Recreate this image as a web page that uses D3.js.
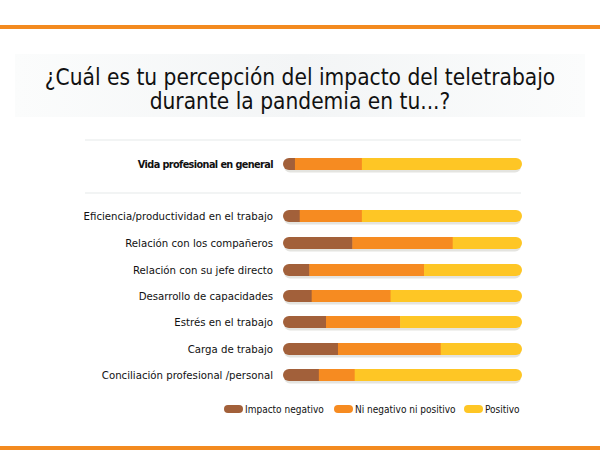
<!DOCTYPE html>
<html>
<head>
<meta charset="utf-8">
<script src="https://cdn.jsdelivr.net/npm/d3@7"></script>
<style>
  body { margin: 0; background: #fff; }
  svg { display: block; }
</style>
</head>
<body>
<svg id="chart"></svg>
<script>
const categories = [
  "Vida profesional en general",
  "Eficiencia/productividad en el trabajo",
  "Relación con los compañeros",
  "Relación con su jefe directo",
  "Desarrollo de  capacidades",
  "Estrés en el trabajo",
  "Carga de trabajo",
  "Conciliación profesional /personal"
];
const negativo = [5, 7, 29, 11, 12, 18, 23, 15];
const neutro   = [28, 26, 42, 48, 33, 31, 43, 15];
const positivo = [67, 67, 29, 41, 55, 51, 34, 70];
const seriesNames = ["Impacto negativo", "Ni negativo ni positivo", "Positivo"];
const colors = ["#a2603a", "#f68b21", "#fec625"];

const width = 600, height = 475;
const font = "'DejaVu Sans Condensed', 'DejaVu Sans', sans-serif";
const svg = d3.select("#chart").attr("width", width).attr("height", height);

const defs = svg.append("defs");
const grad = defs.append("linearGradient").attr("id", "tbg");
grad.append("stop").attr("offset", "0%").attr("stop-color", "#fbfcfc");
grad.append("stop").attr("offset", "50%").attr("stop-color", "#f3f5f6");
grad.append("stop").attr("offset", "100%").attr("stop-color", "#fbfcfc");

// orange rules
svg.append("rect").attr("x", 0).attr("y", 25).attr("width", width).attr("height", 4).attr("fill", "#f38a1f");
svg.append("rect").attr("x", 0).attr("y", 446).attr("width", width).attr("height", 4).attr("fill", "#f38a1f");

// title
svg.append("rect").attr("x", 15).attr("y", 54).attr("width", 570).attr("height", 63).attr("fill", "url(#tbg)");
const title = svg.append("text")
  .attr("text-anchor", "middle")
  .attr("font-family", font)
  .attr("font-size", 22.5)
  .attr("fill", "#111");
title.append("tspan").attr("x", 300).attr("y", 85).text("¿Cuál es tu percepción del impacto del teletrabajo");
title.append("tspan").attr("x", 300).attr("y", 108.5).text("durante la pandemia en tu...?");

// data rows
const rows = categories.map((c, i) => ({
  name: c, vals: [negativo[i], neutro[i], positivo[i]]
}));
const yPos = [164, 216, 243, 270, 296, 322, 349, 375];

const x = d3.scaleLinear().domain([0, 100]).range([283, 522]);
const barH = 12;

// separators
[140, 193].forEach(yy => {
  svg.append("line").attr("x1", 85).attr("x2", 521).attr("y1", yy).attr("y2", yy)
    .attr("stroke", "#eef0f0").attr("stroke-width", 1.5);
});

const clip = defs.selectAll("clipPath").data(rows).join("clipPath")
  .attr("id", (d, i) => "c" + i);
clip.append("rect")
  .attr("x", x(0)).attr("y", (d, i) => yPos[i] - barH / 2)
  .attr("width", x(100) - x(0)).attr("height", barH)
  .attr("rx", barH / 2);

const g = svg.selectAll("g.row").data(rows).join("g").attr("class", "row");

// shadow
g.append("rect")
  .attr("x", x(0) + 1).attr("y", (d, i) => yPos[i] - barH / 2 + 2.5)
  .attr("width", x(100) - x(0) - 2).attr("height", barH)
  .attr("rx", barH / 2).attr("fill", "#e4e4e0");

g.each(function (d, i) {
  const stack = [];
  let acc = 0;
  d.vals.forEach((v, k) => { stack.push({ x0: acc, x1: acc + v, k }); acc += v; });
  d3.select(this).append("g").attr("clip-path", `url(#c${i})`)
    .selectAll("rect").data(stack).join("rect")
    .attr("x", s => x(s.x0)).attr("width", s => x(s.x1) - x(s.x0) + (s.k < 2 ? 0.5 : 0))
    .attr("y", yPos[i] - barH / 2).attr("height", barH)
    .attr("fill", s => colors[s.k]);
});

g.append("text")
  .attr("x", 273).attr("y", (d, i) => yPos[i] + 4)
  .attr("text-anchor", "end")
  .attr("font-family", font)
  .attr("font-size", (d, i) => i === 0 ? 10.8 : 11.3)
  .attr("font-weight", (d, i) => i === 0 ? "bold" : "normal")
  .attr("letter-spacing", (d, i) => i === 0 ? -0.6 : 0)
  .attr("fill", "#111")
  .text(d => d.name);

// legend
const legX = [224, 334, 464];
const leg = svg.selectAll("g.leg").data(seriesNames).join("g").attr("class", "leg")
  .attr("transform", (d, i) => `translate(${legX[i]},409)`);
leg.append("rect").attr("x", 0).attr("y", -4).attr("width", 19).attr("height", 8)
  .attr("rx", 4).attr("fill", (d, i) => colors[i]);
leg.append("text").attr("x", 21).attr("y", 4)
  .attr("font-family", font)
  .attr("font-size", 10).attr("fill", "#111")
  .text(d => d);
</script>
</body>
</html>
